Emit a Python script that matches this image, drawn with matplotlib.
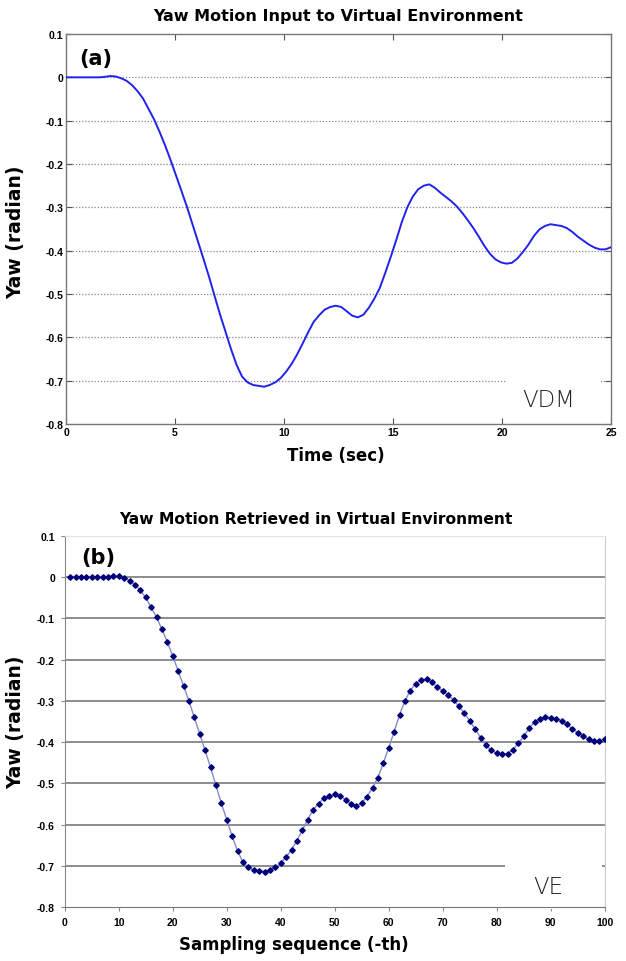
import numpy as np
import matplotlib
matplotlib.use("Agg")
import matplotlib.pyplot as plt
from matplotlib.patches import Rectangle

# yaw samples (radian); sample 1..100
ve_yaw = [
    0.000, 0.000, 0.000, 0.000, 0.000, 0.000, 0.000, 0.001, 0.003, 0.002,
    -0.002, -0.008, -0.018, -0.032, -0.049, -0.073, -0.097, -0.126, -0.157, -0.191,
    -0.227, -0.263, -0.300, -0.340, -0.380, -0.420, -0.461, -0.505, -0.548, -0.588,
    -0.628, -0.664, -0.691, -0.704, -0.710, -0.712, -0.714, -0.710, -0.704, -0.694,
    -0.679, -0.661, -0.639, -0.614, -0.588, -0.564, -0.549, -0.536, -0.530, -0.527,
    -0.530, -0.540, -0.550, -0.554, -0.548, -0.532, -0.511, -0.486, -0.451, -0.414,
    -0.375, -0.334, -0.300, -0.275, -0.258, -0.250, -0.247, -0.255, -0.266, -0.276,
    -0.286, -0.298, -0.313, -0.330, -0.348, -0.368, -0.389, -0.407, -0.420, -0.427,
    -0.430, -0.428, -0.418, -0.403, -0.386, -0.366, -0.351, -0.343, -0.339, -0.341,
    -0.343, -0.348, -0.357, -0.368, -0.377, -0.386, -0.393, -0.397, -0.397, -0.392,
]
sample_idx = np.arange(1, len(ve_yaw) + 1)
# same motion as the simulator logged it, 100 samples over 25 s
vdm_time = np.linspace(0, 25, len(ve_yaw))
vdm_yaw = ve_yaw

yticks = [0.1, 0, -0.1, -0.2, -0.3, -0.4, -0.5, -0.6, -0.7, -0.8]
ytick_labels = ["0.1", "0", "-0.1", "-0.2", "-0.3", "-0.4", "-0.5", "-0.6", "-0.7", "-0.8"]
xticks_top = [0, 5, 10, 15, 20, 25]
xticks_bot = [0, 10, 20, 30, 40, 50, 60, 70, 80, 90, 100]

LBL = "DejaVu Sans"
TCK = "Liberation Sans"

fig = plt.figure(figsize=(6.26, 9.62), dpi=100)

# ---- (a) MATLAB-style panel
ax1 = fig.add_axes([66/626, 1-425/962, (611-66)/626, (425-35)/962])
ax1.plot(vdm_time, vdm_yaw, color="#2222ee", lw=1.4, zorder=3)
ax1.set_xlim(0, 25); ax1.set_ylim(-0.8, 0.1)
ax1.set_xticks(xticks_top)
ax1.set_yticks(yticks)
ax1.set_yticklabels(ytick_labels)
for y in yticks[1:-1]:
    ax1.axhline(y, color="#8a8a8a", lw=0.9, ls=(0, (1, 1.5)), zorder=1)
ax1.tick_params(direction="in", top=True, right=True, length=4, width=0.8,
                color="#555555", labelsize=7.5, pad=2)
for lab in ax1.get_xticklabels() + ax1.get_yticklabels():
    lab.set_fontfamily(TCK); lab.set_fontweight("bold")
for s in ax1.spines.values():
    s.set_color("#777777"); s.set_linewidth(1.0)
ax1.add_patch(Rectangle((0.81, 0.005), 0.17, 0.125, transform=ax1.transAxes,
                        facecolor="white", edgecolor="none", zorder=2))
ax1.text(0.885, 0.062, "VDM", transform=ax1.transAxes, ha="center", va="center",
         fontsize=16.5, fontfamily=LBL, fontweight="light", color="#222222", zorder=4)
ax1.text(0.025, 0.965, "(a)", transform=ax1.transAxes, ha="left", va="top",
         fontsize=15, fontweight="bold", fontfamily=LBL, zorder=4)
fig.text(338/626, 1-17/962, "Yaw Motion Input to Virtual Environment", ha="center",
         va="center", fontsize=11.5, fontweight="bold", fontfamily=LBL)
fig.text(336/626, 1-456/962, "Time (sec)", ha="center", va="center",
         fontsize=12, fontweight="bold", fontfamily=LBL)
fig.text(16/626, 1-232/962, "Yaw (radian)", ha="center", va="center", rotation=90,
         fontsize=13.5, fontweight="bold", fontfamily=LBL)

# ---- (b) Excel-style panel
ax2 = fig.add_axes([64.7/626, 1-908/962, (604.7-64.7)/626, (908-537)/962])
ax2.plot(sample_idx, ve_yaw, color="#8888cc", lw=1.0, zorder=3)
ax2.plot(sample_idx, ve_yaw, ls="none", marker="D", ms=2.8, color="#00007a", zorder=4)
ax2.set_xlim(0, 100); ax2.set_ylim(-0.8, 0.1)
ax2.set_xticks(xticks_bot)
ax2.set_yticks(yticks)
ax2.set_yticklabels(ytick_labels)
for y in yticks[1:-1]:
    ax2.axhline(y, color="#6e6e6e", lw=1.1, zorder=1)
ax2.tick_params(direction="out", length=3, width=0.8, color="#888888",
                labelsize=7.5, pad=4)
for lab in ax2.get_xticklabels() + ax2.get_yticklabels():
    lab.set_fontfamily(TCK); lab.set_fontweight("bold")
ax2.spines["left"].set_color("#888888")
ax2.spines["bottom"].set_color("#777777")
ax2.spines["top"].set_color("#e2e2e2")
ax2.spines["right"].set_color("#cccccc")
ax2.add_patch(Rectangle((0.815, -0.005), 0.18, 0.125, transform=ax2.transAxes,
                        facecolor="white", edgecolor="none", zorder=2, clip_on=False))
ax2.text(0.895, 0.055, "VE", transform=ax2.transAxes, ha="center", va="center",
         fontsize=16.5, fontfamily=LBL, fontweight="light", color="#222222", zorder=5)
ax2.text(0.03, 0.97, "(b)", transform=ax2.transAxes, ha="left", va="top",
         fontsize=15, fontweight="bold", fontfamily=LBL, zorder=5)
fig.text(316/626, 1-520/962, "Yaw Motion Retrieved in Virtual Environment", ha="center",
         va="center", fontsize=11.2, fontweight="bold", fontfamily=LBL)
fig.text(294/626, 1-945/962, "Sampling sequence (-th)", ha="center", va="center",
         fontsize=12, fontweight="bold", fontfamily=LBL)
fig.text(16/626, 1-722/962, "Yaw (radian)", ha="center", va="center", rotation=90,
         fontsize=13.5, fontweight="bold", fontfamily=LBL)

fig.savefig("out.png", dpi=100, facecolor="white")
